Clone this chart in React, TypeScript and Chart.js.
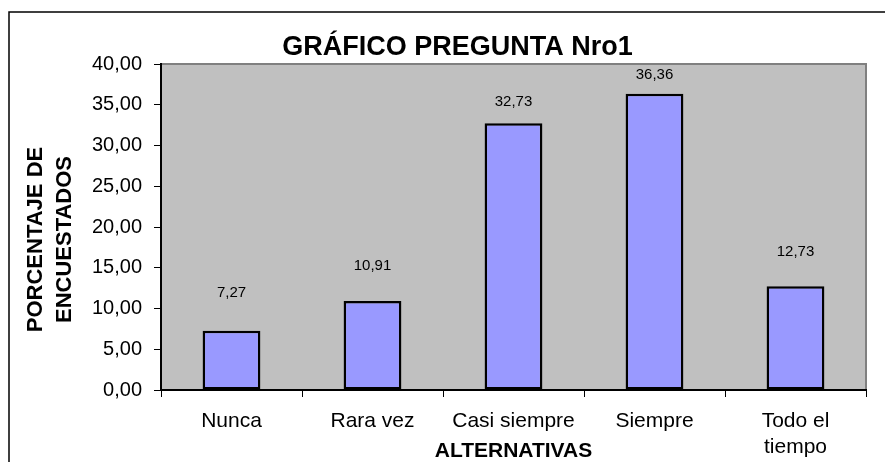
import React, { useEffect, useRef } from "react";
import { Chart, registerables } from "chart.js";

Chart.register(...registerables);

const categories: (string | string[])[] = ["Nunca", "Rara vez", "Casi siempre", "Siempre", ["Todo el", "tiempo"]];
const values: number[] = [7.27, 10.91, 32.73, 36.36, 12.73];
const yMin = 0;
const yMax = 40;
const yStep = 5;
const chartTitle = "GRÁFICO PREGUNTA Nro1";
const yTitleLines: string[] = ["PORCENTAJE DE", "ENCUESTADOS"];
const xTitle = "ALTERNATIVAS";

const FONT = '"Liberation Sans", Arial, sans-serif';
const W = 885;
const H = 462;

const fmt = (v: number) => v.toFixed(2).replace(".", ",");

const decorPlugin = {
  id: "decor",
  beforeDraw(chart: any) {
    const { ctx, chartArea: a } = chart;
    ctx.save();
    ctx.fillStyle = "#ffffff";
    ctx.fillRect(0, 0, chart.width, chart.height);
    ctx.strokeStyle = "#000000";
    ctx.lineWidth = 1.5;
    ctx.strokeRect(9, 12, chart.width + 40, chart.height + 40);
    ctx.fillStyle = "#C0C0C0";
    ctx.fillRect(a.left, a.top, a.right - a.left, a.bottom - a.top);
    ctx.strokeStyle = "#808080";
    ctx.lineWidth = 2;
    ctx.beginPath();
    ctx.moveTo(a.left, a.top);
    ctx.lineTo(a.right, a.top);
    ctx.lineTo(a.right, a.bottom);
    ctx.stroke();
    ctx.restore();
  },
  afterDatasetsDraw(chart: any) {
    const { ctx } = chart;
    const meta = chart.getDatasetMeta(0);
    ctx.save();
    ctx.fillStyle = "#000000";
    ctx.font = `15px ${FONT}`;
    ctx.textAlign = "center";
    ctx.textBaseline = "middle";
    meta.data.forEach((el: any, i: number) => {
      const v = values[i];
      const gap = 43 - 0.67 * v;
      ctx.fillText(fmt(v), el.x, el.y - gap);
    });
    ctx.restore();
  },
  afterDraw(chart: any) {
    const { ctx, chartArea: a } = chart;
    ctx.save();
    ctx.fillStyle = "#000000";
    ctx.font = `bold 27px ${FONT}`;
    ctx.textAlign = "center";
    ctx.textBaseline = "alphabetic";
    ctx.fillText(chartTitle, 457.5, 55);
    ctx.font = `bold 21px ${FONT}`;
    ctx.fillText(xTitle, (a.left + a.right) / 2, 457);
    ctx.font = `bold 22px ${FONT}`;
    const baselines = [42, 70.5];
    yTitleLines.forEach((line, i) => {
      ctx.save();
      ctx.translate(baselines[i], 239.5);
      ctx.rotate(-Math.PI / 2);
      ctx.fillText(line, 0, 0);
      ctx.restore();
    });
    ctx.restore();
  },
};

export default function App() {
  const ref = useRef<HTMLCanvasElement | null>(null);
  useEffect(() => {
    document.body.style.margin = "0";
    document.body.style.overflow = "hidden";
    const canvas = ref.current;
    if (!canvas) return;
    const chart = new Chart(canvas, {
      type: "bar",
      data: {
        labels: categories,
        datasets: [
          {
            data: values,
            backgroundColor: "#9999FF",
            borderColor: "#000000",
            borderWidth: 2.5,
            borderSkipped: false,
            barPercentage: 0.41,
            categoryPercentage: 1,
          },
        ],
      },
      options: {
        responsive: false,
        animation: false,
        devicePixelRatio: 1,
        layout: { padding: { top: 64, right: 19, left: 0, bottom: 0 } },
        plugins: {
          legend: { display: false },
          tooltip: { enabled: false },
          title: { display: false },
        },
        scales: {
          x: {
            offset: true,
            grid: {
              offset: true,
              drawOnChartArea: false,
              drawTicks: true,
              tickLength: 7,
              color: "#000000",
              lineWidth: 1,
            },
            border: { display: true, color: "#000000", width: 2 },
            ticks: {
              color: "#000000",
              font: { family: FONT, size: 21, lineHeight: 1.2 },
              padding: 12,
              maxRotation: 0,
              minRotation: 0,
              autoSkip: false,
            },
            afterFit: (s: any) => {
              s.height = 72;
            },
          },
          y: {
            min: yMin,
            max: yMax,
            grid: {
              drawOnChartArea: false,
              drawTicks: true,
              tickLength: 7,
              color: "#000000",
              lineWidth: 1,
            },
            border: { display: true, color: "#000000", width: 2 },
            ticks: {
              stepSize: yStep,
              color: "#000000",
              font: { family: FONT, size: 20 },
              padding: 12,
              callback: (v: any) => fmt(Number(v)),
            },
            afterFit: (s: any) => {
              s.width = 161;
            },
          },
        },
      },
      plugins: [decorPlugin],
    });
    return () => chart.destroy();
  }, []);
  return <canvas ref={ref} width={W} height={H} style={{ display: "block", width: W, height: H }} />;
}
